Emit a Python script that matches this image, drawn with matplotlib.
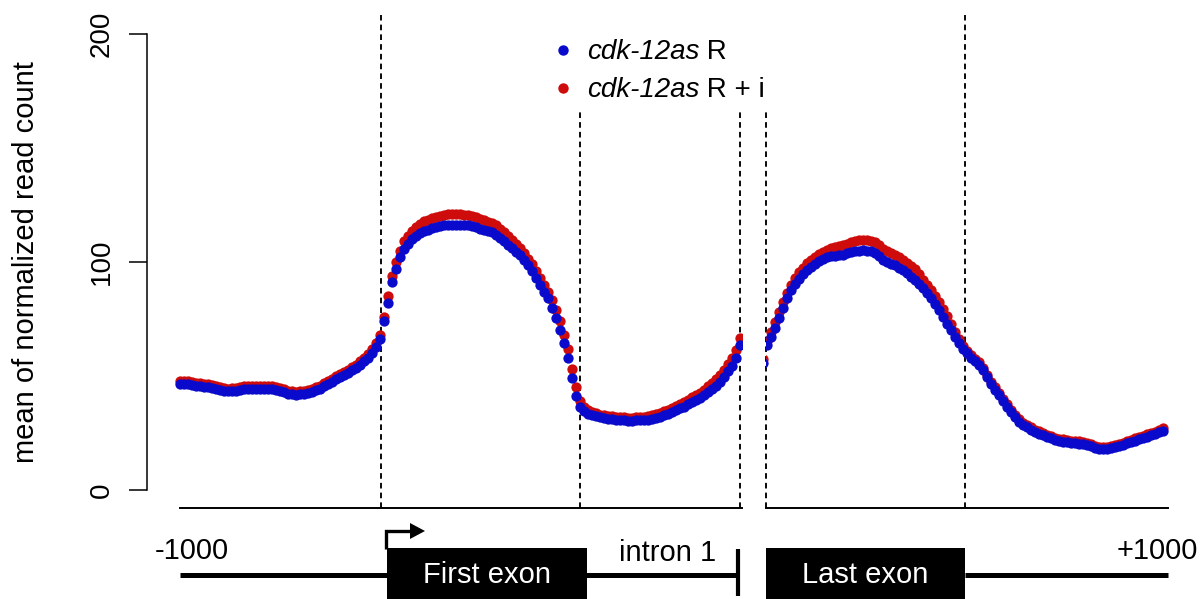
import numpy as np
import matplotlib
matplotlib.use("Agg")
import matplotlib.pyplot as plt
from matplotlib.patches import Rectangle, Polygon
from matplotlib import font_manager

plt.rcParams['font.family'] = ['Liberation Sans', 'DejaVu Sans']

# mean normalized read count per bin, cdk-12as R (blue) and R + i (red)
# upstream region, -1000 .. TSS
upstream_r = [46.5, 46.5, 46.3, 46.0, 45.8, 45.5, 45.2, 45.0, 44.8, 44.5,
              44.0, 43.5, 43.2, 43.3, 43.6, 44.0, 44.2, 44.3, 44.4, 44.5,
              44.4, 44.3, 44.2, 44.3, 44.0, 43.5, 42.8, 42.2, 42.0, 41.8,
              41.9, 42.0, 42.5, 43.0, 43.8, 44.5, 45.5, 46.5, 47.5, 48.5,
              49.5, 50.5, 51.5, 52.5, 53.5, 55.0, 56.5, 58.0, 60.0, 62.5]
upstream_ri = [47.8, 47.8, 47.6, 47.3, 47.1, 46.8, 46.5, 46.3, 46.1, 45.8,
               45.3, 44.8, 44.5, 44.6, 44.9, 45.3, 45.5, 45.6, 45.7, 45.8,
               45.7, 45.6, 45.5, 45.6, 45.3, 44.8, 44.1, 43.5, 43.3, 43.1,
               43.2, 43.3, 43.8, 44.3, 45.1, 45.8, 46.8, 47.8, 48.8, 49.8,
               50.8, 51.8, 52.8, 53.8, 54.9, 56.4, 58.0, 59.7, 61.8, 64.5]
# first exon
exon1_r = [66, 74, 82, 91, 97, 102, 105.5, 108, 110, 111.5,
           112.5, 113.5, 114.2, 114.8, 115.3, 115.7, 116, 116.2, 116.3, 116.3,
           116.2, 116.2, 116, 115.6, 115.2, 114.5, 114, 113.5, 113, 112,
           110.5, 109, 107.5, 106, 104.5, 103, 101, 98.5, 96, 93,
           90, 87, 84, 80, 75.5, 70, 64.5, 58, 49, 41]
exon1_ri = [68, 76, 85, 94, 100, 105, 109, 111.5, 113.5, 115.5,
            116.8, 117.8, 118.6, 119.3, 119.8, 120.2, 120.6, 120.9, 121, 121,
            120.9, 120.7, 120.4, 120, 119.5, 118.8, 118.2, 117.6, 117, 116,
            114.6, 113, 111.3, 109.6, 108, 106.2, 104, 101.5, 99, 96,
            93, 90, 87, 83.5, 79, 74, 68, 62, 53, 45]
# start of intron 1
intron_r = [36.5, 34.5, 33.5, 32.8, 32.3, 31.8, 31.5, 31.2, 31, 30.8,
            30.6, 30.5, 30.4, 30.4, 30.5, 30.5, 30.6, 30.8, 31.2, 31.6,
            32.2, 32.8, 33.5, 34.2, 35, 35.8, 36.6, 37.5, 38.4, 39.3,
            40.3, 41.5, 42.8, 44.2, 45.8, 47.5, 49.5, 52, 54.5, 58,
            63.5]
intron_ri = [39, 36.5, 35, 34.2, 33.6, 33.1, 32.8, 32.5, 32.3, 32.1,
             31.9, 31.8, 31.7, 31.7, 31.8, 31.9, 32, 32.3, 32.7, 33.2,
             33.8, 34.5, 35.2, 36, 36.8, 37.7, 38.6, 39.6, 40.6, 41.6,
             42.7, 44, 45.4, 46.9, 48.6, 50.5, 52.7, 55.3, 58, 61.5,
             66.5]
# end of last intron
intron_end_r = [55.5]
intron_end_ri = [57.5]
# last exon
last_r = [63.5, 67, 71, 75.5, 80, 84, 87.5, 90.5, 92.5, 94.5,
          96.3, 97.8, 99, 100.2, 101.2, 102, 102.5, 102.8, 103, 103.2,
          103.8, 104.3, 104.7, 105, 105.2, 105, 104.6, 104, 102.5, 101,
          100, 99.3, 98.5, 97.5, 96.3, 95, 93.5, 92, 90.3, 88.5,
          86.5, 84, 81.5, 78.8, 76, 73, 70, 67, 64.5, 62]
last_ri = [65.5, 69.5, 73.5, 78, 82.5, 86.5, 90, 93, 95.5, 97.5,
           99.5, 101, 102.3, 103.5, 104.5, 105.4, 106, 106.5, 106.9, 107.3,
           108, 108.7, 109.2, 109.6, 109.8, 109.6, 109.2, 108.6, 107.3, 105.8,
           104.7, 104, 103.2, 102.2, 101, 99.7, 98.2, 96.7, 94.5, 92.3,
           90, 87.5, 85, 82.3, 79.5, 76.5, 73, 69.5, 66, 63]
# downstream region, TES .. +1000
down_r = [60, 58, 56.5, 55, 52.5, 49.5, 46.5, 44, 41.5, 39,
          36.5, 34, 32, 30, 28.5, 27.5, 26.5, 25.5, 24.7, 24,
          23.3, 22.6, 22, 21.5, 21.2, 20.9, 20.7, 20.5, 20.3, 20.1,
          19.8, 19.2, 18.5, 18, 17.8, 17.9, 18.3, 18.8, 19.3, 19.8,
          20.4, 21, 21.6, 22.2, 22.8, 23.4, 24, 24.6, 25.3, 26]
down_ri = [61, 59, 57.5, 56, 53.5, 50.5, 47.5, 45, 42.5, 40,
           37.5, 35, 33, 31, 29.5, 28.5, 27.5, 26.5, 25.7, 25,
           24.3, 23.6, 23, 22.5, 22.2, 21.9, 21.7, 21.5, 21.3, 21.1,
           20.8, 20.2, 19.5, 19, 18.8, 18.9, 19.3, 19.8, 20.3, 20.8,
           21.4, 22, 22.6, 23.2, 23.8, 24.4, 25, 25.6, 26.3, 27.2]

series_labels = ["cdk-12as", "cdk-12as"]
series_suffix = [" R", " R + i"]
blue = "#0a0acc"
red = "#cf0c0c"

# region boundaries in bin units (TSS, exon1 end, panel break, last exon start, TES)
boundaries_left = [50.25, 100, 140]
boundaries_right = [146.5, 196.25]

left_y_r = np.array(upstream_r + exon1_r + intron_r)
left_y_ri = np.array(upstream_ri + exon1_ri + intron_ri)
right_y_r = np.array(intron_end_r + last_r + down_r)
right_y_ri = np.array(intron_end_ri + last_ri + down_ri)
left_x = np.arange(len(left_y_r))
right_x = 145.75 + np.arange(len(right_y_r))

W, H = 1201, 599
fig = plt.figure(figsize=(W / 100, H / 100), dpi=100)

ylo, yhi = -7.9, 208.3
ax1 = fig.add_axes([147 / W, 91 / H, (741.5 - 147) / W, 493 / H])
ax2 = fig.add_axes([766 / W, 91 / H, (1190 - 766) / W, 493 / H])
ax1.set_xlim(-8.25, 140.375)
ax2.set_xlim(146.5, 252.5)

for ax, xs, yr, yri, bnds in [(ax1, left_x, left_y_r, left_y_ri, boundaries_left),
                              (ax2, right_x, right_y_r, right_y_ri, boundaries_right)]:
    ax.set_ylim(ylo, yhi)
    ax.scatter(xs, yri, s=55, color=red, linewidths=0, zorder=2)
    ax.scatter(xs, yr, s=55, color=blue, linewidths=0, zorder=3)
    for b in bnds:
        ax.axvline(b, color="black", lw=1.35, ls=(0, (3, 2.2)), zorder=1, clip_on=False)
    ax.set_xticks([])
    ax.spines['top'].set_visible(False)
    ax.spines['right'].set_visible(False)
    ax.spines['bottom'].set_linewidth(1.4)
    ax.set_facecolor("none")

ax1.spines['bottom'].set_bounds(0, 140.375)
ax2.spines['bottom'].set_bounds(146.5, 247)
ax2.spines['left'].set_visible(False)
ax2.set_yticks([])

ax1.spines['left'].set_bounds(0, 200)
ax1.spines['left'].set_linewidth(1.1)
ax1.set_yticks([0, 100, 200])
ax1.tick_params(axis='y', length=13, width=1.1, labelsize=20, pad=10)
for lbl in ax1.get_yticklabels():
    lbl.set_rotation(90)
    lbl.set_va('center')
fig.text(26 / W, 1 - 262 / H, "mean of normalized read count", rotation=90,
         ha='center', va='center', fontsize=21)

# overlay in bin units horizontally, pixel rows vertically
ov = fig.add_axes([0, 0, 1, 1], zorder=5)
ov.set_xlim(-45, 255.25)
ov.set_ylim(H, 0)
ov.axis('off')
ov.patch.set_alpha(0)

# legend
ov.add_patch(Rectangle((91, 15), 58, 97, facecolor="white", edgecolor="none"))
for row, col, name, suf in [(50, blue, series_labels[0], series_suffix[0]),
                            (88, red, series_labels[1], series_suffix[1])]:
    ov.plot([95.75], [row], 'o', color=col, markersize=7.5, markeredgewidth=0)
    t = ov.text(101.75, row + 2, name, style='italic', fontsize=20, ha='left', va='center')
    ov.annotate(suf, xy=(1, 0), xycoords=t, ha='left', va='bottom', fontsize=20)


def narrow_font():
    for fam in ['Liberation Sans Narrow', 'Arial Narrow']:
        try:
            font_manager.findfont(font_manager.FontProperties(family=fam),
                                  fallback_to_default=False)
            return fam, 24
        except ValueError:
            pass
    return 'Liberation Sans', 21


gfam, gsize = narrow_font()

# gene model below the profile
ov.plot([0, 139.5], [575, 575], color="black", lw=3.6, solid_capstyle='butt')
ov.plot([196.25, 247], [575, 575], color="black", lw=3.6, solid_capstyle='butt')
ov.plot([139.5, 139.5], [549, 596], color="black", lw=3.0, solid_capstyle='butt')
ov.add_patch(Rectangle((51.75, 548), 50, 60, facecolor="black", edgecolor="none"))
ov.add_patch(Rectangle((146.5, 548), 49.75, 60, facecolor="black", edgecolor="none"))
# TSS arrow
ov.plot([51.4, 51.4, 57.5], [549, 531, 531], color="black", lw=2.4,
        solid_capstyle='butt', solid_joinstyle='miter')
ov.add_patch(Polygon([[57.5, 523], [61.25, 531], [57.5, 539]], closed=True,
                     facecolor="black", edgecolor="none"))

ov.text(76.75, 575, "First exon", color="white", ha='center', va='center',
        family=gfam, fontsize=gsize)
ov.text(171.25, 575, "Last exon", color="white", ha='center', va='center',
        family=gfam, fontsize=gsize)
ov.text(122, 553, "intron 1", ha='center', va='center', family=gfam, fontsize=gsize)
ov.text(3, 551, "-1000", ha='center', va='center', family=gfam, fontsize=gsize)
ov.text(244.25, 551, "+1000", ha='center', va='center', family=gfam, fontsize=gsize)

fig.savefig("out.png", dpi=100)
